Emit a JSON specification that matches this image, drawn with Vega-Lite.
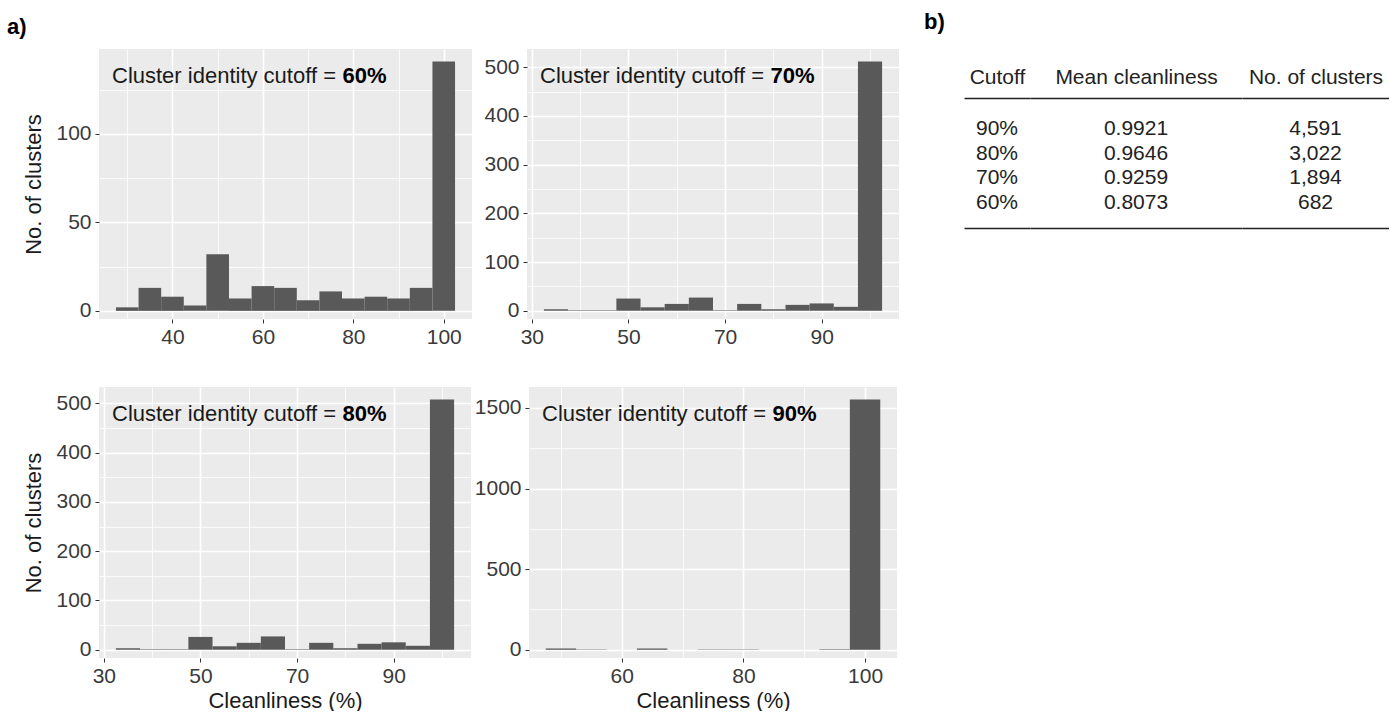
{
  "$schema": "https://vega.github.io/schema/vega-lite/v6.json",
  "padding": {"left": 6, "top": 10, "right": 0, "bottom": 0},
  "background": "white",
  "datasets": {
    "hist": [
      {"cutoff": "60%", "bin_start": 27.5, "bin_end": 32.5, "count": 2},
      {"cutoff": "60%", "bin_start": 32.5, "bin_end": 37.5, "count": 13},
      {"cutoff": "60%", "bin_start": 37.5, "bin_end": 42.5, "count": 8},
      {"cutoff": "60%", "bin_start": 42.5, "bin_end": 47.5, "count": 3},
      {"cutoff": "60%", "bin_start": 47.5, "bin_end": 52.5, "count": 32},
      {"cutoff": "60%", "bin_start": 52.5, "bin_end": 57.5, "count": 7},
      {"cutoff": "60%", "bin_start": 57.5, "bin_end": 62.5, "count": 14},
      {"cutoff": "60%", "bin_start": 62.5, "bin_end": 67.5, "count": 13},
      {"cutoff": "60%", "bin_start": 67.5, "bin_end": 72.5, "count": 6},
      {"cutoff": "60%", "bin_start": 72.5, "bin_end": 77.5, "count": 11},
      {"cutoff": "60%", "bin_start": 77.5, "bin_end": 82.5, "count": 7},
      {"cutoff": "60%", "bin_start": 82.5, "bin_end": 87.5, "count": 8},
      {"cutoff": "60%", "bin_start": 87.5, "bin_end": 92.5, "count": 7},
      {"cutoff": "60%", "bin_start": 92.5, "bin_end": 97.5, "count": 13},
      {"cutoff": "60%", "bin_start": 97.5, "bin_end": 102.5, "count": 141},
      {"cutoff": "70%", "bin_start": 32.5, "bin_end": 37.5, "count": 3},
      {"cutoff": "70%", "bin_start": 37.5, "bin_end": 42.5, "count": 1},
      {"cutoff": "70%", "bin_start": 42.5, "bin_end": 47.5, "count": 1},
      {"cutoff": "70%", "bin_start": 47.5, "bin_end": 52.5, "count": 25},
      {"cutoff": "70%", "bin_start": 52.5, "bin_end": 57.5, "count": 7},
      {"cutoff": "70%", "bin_start": 57.5, "bin_end": 62.5, "count": 14},
      {"cutoff": "70%", "bin_start": 62.5, "bin_end": 67.5, "count": 27},
      {"cutoff": "70%", "bin_start": 67.5, "bin_end": 72.5, "count": 1},
      {"cutoff": "70%", "bin_start": 72.5, "bin_end": 77.5, "count": 14},
      {"cutoff": "70%", "bin_start": 77.5, "bin_end": 82.5, "count": 3},
      {"cutoff": "70%", "bin_start": 82.5, "bin_end": 87.5, "count": 12},
      {"cutoff": "70%", "bin_start": 87.5, "bin_end": 92.5, "count": 15},
      {"cutoff": "70%", "bin_start": 92.5, "bin_end": 97.5, "count": 8},
      {"cutoff": "70%", "bin_start": 97.5, "bin_end": 102.5, "count": 512},
      {"cutoff": "80%", "bin_start": 32.5, "bin_end": 37.5, "count": 3},
      {"cutoff": "80%", "bin_start": 37.5, "bin_end": 42.5, "count": 1},
      {"cutoff": "80%", "bin_start": 42.5, "bin_end": 47.5, "count": 1},
      {"cutoff": "80%", "bin_start": 47.5, "bin_end": 52.5, "count": 26},
      {"cutoff": "80%", "bin_start": 52.5, "bin_end": 57.5, "count": 7},
      {"cutoff": "80%", "bin_start": 57.5, "bin_end": 62.5, "count": 14},
      {"cutoff": "80%", "bin_start": 62.5, "bin_end": 67.5, "count": 27},
      {"cutoff": "80%", "bin_start": 67.5, "bin_end": 72.5, "count": 1},
      {"cutoff": "80%", "bin_start": 72.5, "bin_end": 77.5, "count": 14},
      {"cutoff": "80%", "bin_start": 77.5, "bin_end": 82.5, "count": 3},
      {"cutoff": "80%", "bin_start": 82.5, "bin_end": 87.5, "count": 12},
      {"cutoff": "80%", "bin_start": 87.5, "bin_end": 92.5, "count": 15},
      {"cutoff": "80%", "bin_start": 92.5, "bin_end": 97.5, "count": 8},
      {"cutoff": "80%", "bin_start": 97.5, "bin_end": 102.5, "count": 508},
      {"cutoff": "90%", "bin_start": 47.5, "bin_end": 52.5, "count": 8},
      {"cutoff": "90%", "bin_start": 52.5, "bin_end": 57.5, "count": 2},
      {"cutoff": "90%", "bin_start": 57.5, "bin_end": 62.5, "count": 0},
      {"cutoff": "90%", "bin_start": 62.5, "bin_end": 67.5, "count": 8},
      {"cutoff": "90%", "bin_start": 67.5, "bin_end": 72.5, "count": 0},
      {"cutoff": "90%", "bin_start": 72.5, "bin_end": 77.5, "count": 2},
      {"cutoff": "90%", "bin_start": 77.5, "bin_end": 82.5, "count": 2},
      {"cutoff": "90%", "bin_start": 82.5, "bin_end": 87.5, "count": 0},
      {"cutoff": "90%", "bin_start": 87.5, "bin_end": 92.5, "count": 0},
      {"cutoff": "90%", "bin_start": 92.5, "bin_end": 97.5, "count": 3},
      {"cutoff": "90%", "bin_start": 97.5, "bin_end": 102.5, "count": 1552}
    ],
    "panels": [
      {"cutoff": "60%", "prefix": "Cluster identity cutoff ="},
      {"cutoff": "70%", "prefix": "Cluster identity cutoff ="},
      {"cutoff": "80%", "prefix": "Cluster identity cutoff ="},
      {"cutoff": "90%", "prefix": "Cluster identity cutoff ="}
    ],
    "table": [
      {"cutoff": "90%", "mean": 0.9921, "clusters": 4591},
      {"cutoff": "80%", "mean": 0.9646, "clusters": 3022},
      {"cutoff": "70%", "mean": 0.9259, "clusters": 1894},
      {"cutoff": "60%", "mean": 0.8073, "clusters": 682}
    ]
  },
  "config": {
    "font": "Liberation Sans",
    "view": {"stroke": null},
    "axis": {
      "labelFont": "Liberation Sans", "titleFont": "Liberation Sans",
      "labelFontSize": 21, "titleFontSize": 22, "titleFontWeight": "normal",
      "titleColor": "#1a1a1a", "labelColor": "#3a3a3a",
      "tickColor": "#333333", "tickSize": 4, "labelPadding": 3,
      "domain": false, "gridColor": "#ffffff", "gridWidth": 1.6, "gridOpacity": 1,
      "labelFlush": false, "labelOverlap": false
    },
    "title": {"font": "Liberation Sans", "color": "#000000"},
    "text": {"font": "Liberation Sans"}
  },
  "spacing": 25,
  "hconcat": [
    {
      "title": {"text": "a)", "anchor": "start", "fontSize": 22, "fontWeight": "bold", "dx": -16, "offset": 10.5},
      "spacing": 40,
      "vconcat": [
        {
          "spacing": 11,
          "hconcat": [
            {
              "width": 373, "height": 270,
              "view": {"fill": "#EBEBEB", "stroke": null},
              "resolve": {"axis": {"x": "independent", "y": "independent"}},
              "layer": [
                {
                  "data": {"name": "hist"},
                  "transform": [{"filter": "datum.cutoff === '60%'"}],
                  "mark": {"type": "bar", "opacity": 0},
                  "encoding": {
                    "x": {"field": "bin_start", "type": "quantitative", "scale": {"domain": [23.75, 106.25], "nice": false, "zero": false},
                      "axis": {"orient": "bottom", "values": [30, 50, 70, 90], "grid": true, "gridWidth": 0.8, "ticks": false, "labels": false, "domain": false, "title": null, "minExtent": 0, "maxExtent": 0}},
                    "x2": {"field": "bin_end"},
                    "y": {"field": "count", "type": "quantitative", "scale": {"domain": [-4.6, 148.05], "nice": false, "zero": false},
                      "axis": {"orient": "left", "values": [25, 75, 125], "grid": true, "gridWidth": 0.8, "ticks": false, "labels": false, "domain": false, "title": null, "minExtent": 0, "maxExtent": 0}},
                    "y2": {"datum": 0}
                  }
                },
                {
                  "data": {"name": "hist"},
                  "transform": [{"filter": "datum.cutoff === '60%'"}],
                  "mark": {"type": "bar", "color": "#595959"},
                  "encoding": {
                    "x": {"field": "bin_start", "type": "quantitative",
                      "axis": {"orient": "bottom", "values": [40, 60, 80, 100], "format": "d", "grid": true, "title": null}},
                    "x2": {"field": "bin_end"},
                    "y": {"field": "count", "type": "quantitative",
                      "axis": {"orient": "left", "values": [0, 50, 100], "format": "d", "grid": true, "title": "No. of clusters", "titlePadding": 10, "labelPadding": 4}},
                    "y2": {"datum": 0}
                  }
                },
                {
                  "data": {"name": "panels"},
                  "transform": [{"filter": "datum.cutoff === '60%'"}],
                  "mark": {"type": "text", "align": "left", "baseline": "alphabetic", "dx": 13, "dy": 34, "fontSize": 22, "color": "#1a1a1a"},
                  "encoding": {
                    "x": {"datum": 23.75, "type": "quantitative", "axis": null},
                    "y": {"datum": 148.05, "type": "quantitative", "axis": null},
                    "text": {"field": "prefix"}
                  }
                },
                {
                  "data": {"name": "panels"},
                  "transform": [{"filter": "datum.cutoff === '60%'"}],
                  "mark": {"type": "text", "align": "left", "baseline": "alphabetic", "dx": 243.5, "dy": 34, "fontSize": 22, "fontWeight": "bold", "color": "#000000"},
                  "encoding": {
                    "x": {"datum": 23.75, "type": "quantitative", "axis": null},
                    "y": {"datum": 148.05, "type": "quantitative", "axis": null},
                    "text": {"field": "cutoff"}
                  }
                }
              ]
            },
            {
              "width": 372, "height": 270,
              "view": {"fill": "#EBEBEB", "stroke": null},
              "resolve": {"axis": {"x": "independent", "y": "independent"}},
              "layer": [
                {
                  "data": {"name": "hist"},
                  "transform": [{"filter": "datum.cutoff === '70%'"}],
                  "mark": {"type": "bar", "opacity": 0},
                  "encoding": {
                    "x": {"field": "bin_start", "type": "quantitative", "scale": {"domain": [29, 106], "nice": false, "zero": false},
                      "axis": {"orient": "bottom", "values": [40, 60, 80, 100], "grid": true, "gridWidth": 0.8, "ticks": false, "labels": false, "domain": false, "title": null, "minExtent": 0, "maxExtent": 0}},
                    "x2": {"field": "bin_end"},
                    "y": {"field": "count", "type": "quantitative", "scale": {"domain": [-17, 537.6], "nice": false, "zero": false},
                      "axis": {"orient": "left", "values": [50, 150, 250, 350, 450], "grid": true, "gridWidth": 0.8, "ticks": false, "labels": false, "domain": false, "title": null, "minExtent": 0, "maxExtent": 0}},
                    "y2": {"datum": 0}
                  }
                },
                {
                  "data": {"name": "hist"},
                  "transform": [{"filter": "datum.cutoff === '70%'"}],
                  "mark": {"type": "bar", "color": "#595959"},
                  "encoding": {
                    "x": {"field": "bin_start", "type": "quantitative",
                      "axis": {"orient": "bottom", "values": [30, 50, 70, 90], "format": "d", "grid": true, "title": null}},
                    "x2": {"field": "bin_end"},
                    "y": {"field": "count", "type": "quantitative",
                      "axis": {"orient": "left", "values": [0, 100, 200, 300, 400, 500], "format": "d", "grid": true, "title": null, "labelPadding": 4}},
                    "y2": {"datum": 0}
                  }
                },
                {
                  "data": {"name": "panels"},
                  "transform": [{"filter": "datum.cutoff === '70%'"}],
                  "mark": {"type": "text", "align": "left", "baseline": "alphabetic", "dx": 13, "dy": 34, "fontSize": 22, "color": "#1a1a1a"},
                  "encoding": {
                    "x": {"datum": 29, "type": "quantitative", "axis": null},
                    "y": {"datum": 537.6, "type": "quantitative", "axis": null},
                    "text": {"field": "prefix"}
                  }
                },
                {
                  "data": {"name": "panels"},
                  "transform": [{"filter": "datum.cutoff === '70%'"}],
                  "mark": {"type": "text", "align": "left", "baseline": "alphabetic", "dx": 243.5, "dy": 34, "fontSize": 22, "fontWeight": "bold", "color": "#000000"},
                  "encoding": {
                    "x": {"datum": 29, "type": "quantitative", "axis": null},
                    "y": {"datum": 537.6, "type": "quantitative", "axis": null},
                    "text": {"field": "cutoff"}
                  }
                }
              ]
            }
          ]
        },
        {
          "spacing": 3,
          "hconcat": [
            {
              "width": 372, "height": 271,
              "view": {"fill": "#EBEBEB", "stroke": null},
              "resolve": {"axis": {"x": "independent", "y": "independent"}},
              "layer": [
                {
                  "data": {"name": "hist"},
                  "transform": [{"filter": "datum.cutoff === '80%'"}],
                  "mark": {"type": "bar", "opacity": 0},
                  "encoding": {
                    "x": {"field": "bin_start", "type": "quantitative", "scale": {"domain": [29, 106], "nice": false, "zero": false},
                      "axis": {"orient": "bottom", "values": [40, 60, 80, 100], "grid": true, "gridWidth": 0.8, "ticks": false, "labels": false, "domain": false, "title": null, "minExtent": 0, "maxExtent": 0}},
                    "x2": {"field": "bin_end"},
                    "y": {"field": "count", "type": "quantitative", "scale": {"domain": [-16.8, 533.4], "nice": false, "zero": false},
                      "axis": {"orient": "left", "values": [50, 150, 250, 350, 450], "grid": true, "gridWidth": 0.8, "ticks": false, "labels": false, "domain": false, "title": null, "minExtent": 0, "maxExtent": 0}},
                    "y2": {"datum": 0}
                  }
                },
                {
                  "data": {"name": "hist"},
                  "transform": [{"filter": "datum.cutoff === '80%'"}],
                  "mark": {"type": "bar", "color": "#595959"},
                  "encoding": {
                    "x": {"field": "bin_start", "type": "quantitative",
                      "axis": {"orient": "bottom", "values": [30, 50, 70, 90], "format": "d", "grid": true, "title": "Cleanliness (%)", "titlePadding": 4}},
                    "x2": {"field": "bin_end"},
                    "y": {"field": "count", "type": "quantitative",
                      "axis": {"orient": "left", "values": [0, 100, 200, 300, 400, 500], "format": "d", "grid": true, "title": "No. of clusters", "titlePadding": 10, "labelPadding": 4}},
                    "y2": {"datum": 0}
                  }
                },
                {
                  "data": {"name": "panels"},
                  "transform": [{"filter": "datum.cutoff === '80%'"}],
                  "mark": {"type": "text", "align": "left", "baseline": "alphabetic", "dx": 13, "dy": 34, "fontSize": 22, "color": "#1a1a1a"},
                  "encoding": {
                    "x": {"datum": 29, "type": "quantitative", "axis": null},
                    "y": {"datum": 533.4, "type": "quantitative", "axis": null},
                    "text": {"field": "prefix"}
                  }
                },
                {
                  "data": {"name": "panels"},
                  "transform": [{"filter": "datum.cutoff === '80%'"}],
                  "mark": {"type": "text", "align": "left", "baseline": "alphabetic", "dx": 243.5, "dy": 34, "fontSize": 22, "fontWeight": "bold", "color": "#000000"},
                  "encoding": {
                    "x": {"datum": 29, "type": "quantitative", "axis": null},
                    "y": {"datum": 533.4, "type": "quantitative", "axis": null},
                    "text": {"field": "cutoff"}
                  }
                }
              ]
            },
            {
              "width": 368, "height": 271,
              "view": {"fill": "#EBEBEB", "stroke": null},
              "resolve": {"axis": {"x": "independent", "y": "independent"}},
              "layer": [
                {
                  "data": {"name": "hist"},
                  "transform": [{"filter": "datum.cutoff === '90%'"}],
                  "mark": {"type": "bar", "opacity": 0},
                  "encoding": {
                    "x": {"field": "bin_start", "type": "quantitative", "scale": {"domain": [44.75, 105.25], "nice": false, "zero": false},
                      "axis": {"orient": "bottom", "values": [50, 70, 90], "grid": true, "gridWidth": 0.8, "ticks": false, "labels": false, "domain": false, "title": null, "minExtent": 0, "maxExtent": 0}},
                    "x2": {"field": "bin_end"},
                    "y": {"field": "count", "type": "quantitative", "scale": {"domain": [-51, 1629.6], "nice": false, "zero": false},
                      "axis": {"orient": "left", "values": [250, 750, 1250], "grid": true, "gridWidth": 0.8, "ticks": false, "labels": false, "domain": false, "title": null, "minExtent": 0, "maxExtent": 0}},
                    "y2": {"datum": 0}
                  }
                },
                {
                  "data": {"name": "hist"},
                  "transform": [{"filter": "datum.cutoff === '90%'"}],
                  "mark": {"type": "bar", "color": "#595959"},
                  "encoding": {
                    "x": {"field": "bin_start", "type": "quantitative",
                      "axis": {"orient": "bottom", "values": [60, 80, 100], "format": "d", "grid": true, "title": "Cleanliness (%)", "titlePadding": 4}},
                    "x2": {"field": "bin_end"},
                    "y": {"field": "count", "type": "quantitative",
                      "axis": {"orient": "left", "values": [0, 500, 1000, 1500], "format": "d", "grid": true, "title": null, "labelPadding": 4}},
                    "y2": {"datum": 0}
                  }
                },
                {
                  "data": {"name": "panels"},
                  "transform": [{"filter": "datum.cutoff === '90%'"}],
                  "mark": {"type": "text", "align": "left", "baseline": "alphabetic", "dx": 13, "dy": 34, "fontSize": 22, "color": "#1a1a1a"},
                  "encoding": {
                    "x": {"datum": 44.75, "type": "quantitative", "axis": null},
                    "y": {"datum": 1629.6, "type": "quantitative", "axis": null},
                    "text": {"field": "prefix"}
                  }
                },
                {
                  "data": {"name": "panels"},
                  "transform": [{"filter": "datum.cutoff === '90%'"}],
                  "mark": {"type": "text", "align": "left", "baseline": "alphabetic", "dx": 243.5, "dy": 34, "fontSize": 22, "fontWeight": "bold", "color": "#000000"},
                  "encoding": {
                    "x": {"datum": 44.75, "type": "quantitative", "axis": null},
                    "y": {"datum": 1629.6, "type": "quantitative", "axis": null},
                    "text": {"field": "cutoff"}
                  }
                }
              ]
            }
          ]
        }
      ]
    },
    {
      "title": {"text": "b)", "anchor": "start", "fontSize": 22, "fontWeight": "bold", "dx": -40, "offset": 15.5},
      "spacing": 0,
      "hconcat": [
        {
          "width": 66, "height": 179,
          "data": {"name": "table"},
          "resolve": {"axis": {"x": "independent"}},
          "layer": [
            {
              "mark": {"type": "text", "fontSize": 21, "color": "#222222", "baseline": "middle"},
              "encoding": {
                "x": {"datum": "Cutoff", "type": "nominal", "axis": {"orient": "top", "offset": -49, "domain": true, "domainColor": "#222222", "domainWidth": 1.5, "ticks": false, "grid": false, "labelPadding": 11, "labelAngle": 0, "labelFontSize": 21, "labelColor": "#222222", "title": null}},
                "y": {"field": "cutoff", "type": "nominal", "sort": ["90%", "80%", "70%", "60%"], "scale": {"type": "point", "range": [80, 154], "padding": 0}, "axis": null},
                "text": {"field": "cutoff"}
              }
            },
            {
              "mark": {"type": "text", "text": ""},
              "encoding": {
                "x": {"datum": "Cutoff", "type": "nominal", "axis": {"orient": "bottom", "domain": true, "domainColor": "#222222", "domainWidth": 1.5, "ticks": false, "labels": false, "grid": false, "title": null}},
                "y": {"field": "cutoff", "type": "nominal", "sort": ["90%", "80%", "70%", "60%"], "axis": null}
              }
            }
          ]
        },
        {
          "width": 212, "height": 179,
          "data": {"name": "table"},
          "resolve": {"axis": {"x": "independent"}},
          "layer": [
            {
              "mark": {"type": "text", "fontSize": 21, "color": "#222222", "baseline": "middle"},
              "encoding": {
                "x": {"datum": "Mean cleanliness", "type": "nominal", "axis": {"orient": "top", "offset": -49, "domain": true, "domainColor": "#222222", "domainWidth": 1.5, "ticks": false, "grid": false, "labelPadding": 11, "labelAngle": 0, "labelFontSize": 21, "labelColor": "#222222", "title": null}},
                "y": {"field": "cutoff", "type": "nominal", "sort": ["90%", "80%", "70%", "60%"], "scale": {"type": "point", "range": [80, 154], "padding": 0}, "axis": null},
                "text": {"field": "mean", "type": "quantitative", "format": ".4f"}
              }
            },
            {
              "mark": {"type": "text", "text": ""},
              "encoding": {
                "x": {"datum": "Mean cleanliness", "type": "nominal", "axis": {"orient": "bottom", "domain": true, "domainColor": "#222222", "domainWidth": 1.5, "ticks": false, "labels": false, "grid": false, "title": null}},
                "y": {"field": "cutoff", "type": "nominal", "sort": ["90%", "80%", "70%", "60%"], "axis": null}
              }
            }
          ]
        },
        {
          "width": 147, "height": 179,
          "data": {"name": "table"},
          "resolve": {"axis": {"x": "independent"}},
          "layer": [
            {
              "mark": {"type": "text", "fontSize": 21, "color": "#222222", "baseline": "middle"},
              "encoding": {
                "x": {"datum": "No. of clusters", "type": "nominal", "axis": {"orient": "top", "offset": -49, "domain": true, "domainColor": "#222222", "domainWidth": 1.5, "ticks": false, "grid": false, "labelPadding": 11, "labelAngle": 0, "labelFontSize": 21, "labelColor": "#222222", "title": null}},
                "y": {"field": "cutoff", "type": "nominal", "sort": ["90%", "80%", "70%", "60%"], "scale": {"type": "point", "range": [80, 154], "padding": 0}, "axis": null},
                "text": {"field": "clusters", "type": "quantitative", "format": ",d"}
              }
            },
            {
              "mark": {"type": "text", "text": ""},
              "encoding": {
                "x": {"datum": "No. of clusters", "type": "nominal", "axis": {"orient": "bottom", "domain": true, "domainColor": "#222222", "domainWidth": 1.5, "ticks": false, "labels": false, "grid": false, "title": null}},
                "y": {"field": "cutoff", "type": "nominal", "sort": ["90%", "80%", "70%", "60%"], "axis": null}
              }
            }
          ]
        }
      ]
    }
  ]
}
